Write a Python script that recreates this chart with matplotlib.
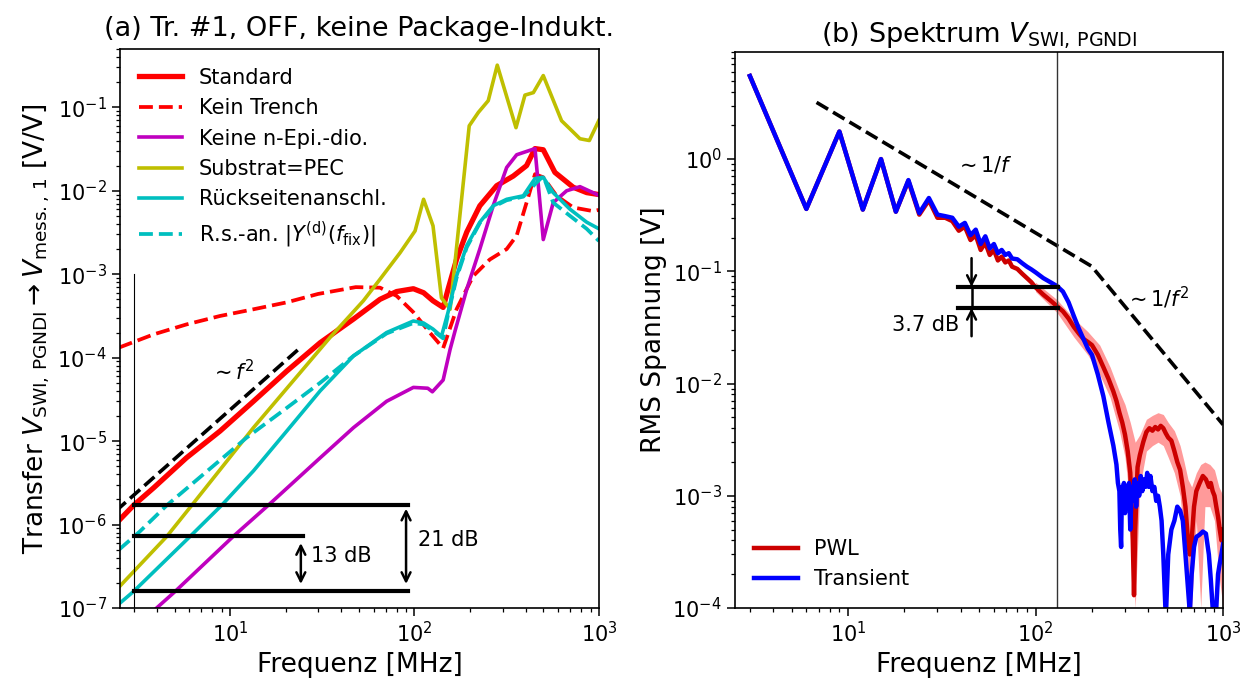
import numpy as np
import matplotlib.pyplot as plt

# =========================================================
# (a) Transfer functions, Tr. #1 OFF  (f in MHz, V/V)
# =========================================================
f_std = [2.5, 3.0, 3.85, 5.8, 8.83, 13.4, 20.3, 30.8, 46.7, 65, 80, 98.6, 112, 126,
         143, 152, 169, 192, 226, 279, 343, 405, 450, 499, 577, 726, 858, 1000]
v_std = [1.12e-6, 1.7e-6, 2.75e-6, 6.3e-6, 1.32e-5, 3.0e-5, 6.9e-5, 1.51e-4, 2.9e-4,
         5.0e-4, 6.2e-4, 6.7e-4, 6.0e-4, 4.8e-4, 4.0e-4, 6.6e-4, 1.5e-3, 3.2e-3,
         6.6e-3, 1.15e-2, 1.5e-2, 2.0e-2, 3.2e-2, 3.1e-2, 1.66e-2, 1.1e-2, 9.5e-3, 9.0e-3]

f_trench = [2.5, 3.85, 5.8, 8.83, 13.4, 20.3, 30, 48, 65, 80, 98.6, 121, 143, 169,
            208, 256, 316, 358, 405, 450, 499, 589, 726, 930, 1000]
v_trench = [1.32e-4, 1.9e-4, 2.5e-4, 3.16e-4, 3.8e-4, 4.6e-4, 5.8e-4, 7.0e-4, 6.9e-4,
            5.5e-4, 3.5e-4, 2.0e-4, 1.3e-4, 3.8e-4, 9.5e-4, 1.5e-3, 2.0e-3, 2.9e-3,
            7.2e-3, 1.58e-2, 1.45e-2, 8.7e-3, 6.3e-3, 5.7e-3, 5.9e-3]

f_epi = [4.0, 5.04, 10.4, 16.1, 30.8, 46.7, 70.6, 98.6, 118, 125, 143, 156, 166,
         192, 226, 267, 316, 358, 450, 499, 565, 668, 789, 1000]
v_epi = [1.0e-7, 1.58e-7, 7.2e-7, 1.7e-6, 6.3e-6, 1.45e-5, 3.0e-5, 4.4e-5, 4.3e-5,
         3.9e-5, 5.4e-5, 1.26e-4, 2.1e-4, 6.6e-4, 2.0e-3, 6.6e-3, 1.9e-2, 2.7e-2,
         3.2e-2, 2.6e-3, 7.2e-3, 1.0e-2, 1.12e-2, 8.8e-3]

f_pec = [2.5, 4.54, 6.2, 13.4, 34.8, 52.8, 65, 83.4, 100.7, 112, 126, 140, 156,
         198, 222, 251, 281, 355, 397, 441, 499, 627, 697, 789, 887, 1000]
v_pec = [1.78e-7, 7.2e-7, 1.7e-6, 1.45e-5, 1.74e-4, 4.8e-4, 8.7e-4, 1.8e-3, 3.3e-3,
         7.9e-3, 3.8e-3, 5.2e-4, 3.8e-4, 6.0e-2, 8.7e-2, 0.12, 0.32, 5.7e-2, 0.14,
         0.15, 0.24, 6.9e-2, 5.5e-2, 4.2e-2, 4.0e-2, 7.0e-2]

f_rs = [2.5, 3.0, 6.07, 9.0, 13.4, 20.3, 30.8, 46.7, 70.6, 98.6, 112, 126, 140, 152,
        169, 192, 226, 267, 316, 389, 450, 499, 565, 697, 858, 1000]
v_rs = [1.12e-7, 1.58e-7, 7.2e-7, 1.7e-6, 4.4e-6, 1.32e-5, 4.0e-5, 1.05e-4, 2.0e-4,
        2.75e-4, 2.6e-4, 2.2e-4, 1.8e-4, 3.5e-4, 9.5e-4, 2.2e-3, 4.2e-3, 6.6e-3,
        7.9e-3, 8.7e-3, 1.4e-2, 1.45e-2, 9.5e-3, 6.0e-3, 4.2e-3, 3.5e-3]

f_rsy = [2.5, 3.25, 4.54, 12.3, 20.3, 30.8, 46.7, 70.6, 98.6, 112, 126, 143, 152,
         169, 192, 226, 267, 316, 389, 450, 499, 565, 697, 858, 1000]
v_rsy = [5.0e-7, 8.3e-7, 1.7e-6, 1.1e-5, 2.5e-5, 5.0e-5, 1.05e-4, 1.95e-4, 2.6e-4,
         2.5e-4, 2.1e-4, 1.7e-4, 3.3e-4, 9.0e-4, 2.1e-3, 4.1e-3, 6.4e-3, 7.7e-3,
         8.5e-3, 1.2e-2, 1.5e-2, 7.2e-3, 5.0e-3, 3.5e-3, 2.5e-3]

f_sq = [2.4, 23.5]          # ~ f^2 guide
v_sq = [1.45e-6, 1.26e-4]

lvl_a = [1.7e-6, 7.2e-7, 1.58e-7]   # horizontal reference levels
lvl_a_end = [92.7, 24.8, 92.7]

# =========================================================
# (b) Spectrum V_SWI,PGNDI  (RMS V)
# =========================================================
f_tr = [3, 6, 9, 12, 15, 18, 21, 24, 27, 30, 33, 36, 39, 42, 45, 48, 51, 54, 57, 60,
        63, 66, 69, 72, 75, 80, 85, 90, 95, 100, 110, 120, 130, 140, 150, 160, 170,
        180, 190, 200, 215, 230, 245, 260, 270, 275,
        280, 283, 286, 289, 292, 296, 300, 305, 310, 315, 320, 326, 332, 338, 344,
        350, 357, 364, 371, 378, 386, 394, 402, 410, 420, 430, 440, 450, 460, 470,
        480, 495, 510, 530, 550, 570, 590, 610, 630, 650, 665, 680, 700, 720, 750,
        780, 810, 840, 860, 880, 900, 920, 940, 960, 980, 1000]
v_tr = [5.5, 0.36, 1.76, 0.355, 1.0, 0.34, 0.65, 0.33, 0.45, 0.32, 0.31, 0.30, 0.25,
        0.27, 0.21, 0.235, 0.175, 0.205, 0.16, 0.175, 0.145, 0.155, 0.14, 0.145, 0.13,
        0.128, 0.118, 0.11, 0.104, 0.098, 0.087, 0.08, 0.074, 0.066, 0.053, 0.04,
        0.031, 0.025, 0.0205, 0.018, 0.012, 0.0077, 0.0045, 0.0028, 0.0019, 0.0013,
        0.0011, 0.0005, 0.00035, 0.0012, 0.0009, 0.0013, 0.0007, 0.0012, 0.0008,
        0.0013, 0.0005, 0.0012, 0.0009, 0.0014, 0.0008, 0.0013, 0.001, 0.0015,
        0.0011, 0.0014, 0.0012, 0.0016, 0.0012, 0.0015, 0.0011, 0.0012, 0.0009,
        0.001, 0.0008, 0.0006, 0.0003, 0.00008, 0.0003, 0.0005, 0.0006, 0.0008,
        0.00074, 0.0006, 0.0003, 0.00015, 0.00009, 0.0002, 0.00035, 0.00043, 0.00045,
        0.00048, 0.00046, 0.0003, 0.00018, 0.0001, 0.00008, 0.0001, 0.0002, 0.00025,
        0.0003, 0.00037]

f_pwl = [3, 6, 9, 12, 15, 18, 21, 24, 27, 30, 33, 36, 39, 42, 45, 48, 51, 54, 57, 60,
         63, 66, 69, 72, 75, 80, 85, 90, 95, 100, 110, 120, 130, 140, 150, 160, 170,
         180, 190, 200, 215, 230, 245, 260, 270, 280, 290, 300, 310, 320, 330, 335,
         340, 350, 360, 375, 390, 405, 420, 435, 450, 465, 480, 495, 510, 530, 550,
         570, 590, 610, 630, 650, 665, 680, 700, 720, 750, 780, 810, 840, 860, 880,
         900, 920, 940, 960, 980, 1000]
v_pwl = [5.5, 0.36, 1.76, 0.355, 1.0, 0.34, 0.64, 0.32, 0.43, 0.30, 0.30, 0.28, 0.23,
         0.25, 0.19, 0.21, 0.155, 0.18, 0.14, 0.155, 0.125, 0.135, 0.12, 0.125, 0.11,
         0.105, 0.095, 0.087, 0.08, 0.072, 0.062, 0.055, 0.049, 0.044, 0.038, 0.032,
         0.028, 0.025, 0.0235, 0.022, 0.018, 0.014, 0.011, 0.0085, 0.007, 0.0055,
         0.0045, 0.0035, 0.0025, 0.0016, 0.0004, 0.00013, 0.0005, 0.0018, 0.0023,
         0.003, 0.0037, 0.004, 0.0038, 0.0041, 0.0039, 0.0042, 0.004, 0.0036, 0.0033,
         0.0031, 0.0025, 0.002, 0.0017, 0.0012, 0.0008, 0.0004, 0.0003, 0.0004,
         0.0008, 0.0011, 0.0013, 0.0015, 0.0014, 0.0012, 0.0013, 0.0011, 0.001,
         0.0008, 0.00065, 0.0005, 0.0004, 0.0005]

f_band = [100, 130, 160, 190, 220, 250, 280, 300, 320, 340, 360, 390, 420, 450, 480,
          510, 550, 590, 620, 650, 680, 720, 760, 800, 850, 900, 950, 1000]
band_hi = [0.08, 0.056, 0.038, 0.029, 0.022, 0.014, 0.0085, 0.0065, 0.0045, 0.003,
           0.0035, 0.0048, 0.0052, 0.0055, 0.0053, 0.0045, 0.0038, 0.0028, 0.002,
           0.0014, 0.0012, 0.0016, 0.0019, 0.002, 0.0019, 0.0017, 0.0012, 0.001]
band_lo = [0.066, 0.043, 0.026, 0.018, 0.012, 0.0075, 0.0038, 0.0022, 0.0008, 0.0001,
           0.0012, 0.0025, 0.0028, 0.003, 0.0028, 0.0022, 0.0016, 0.001, 0.0004,
           0.0001, 0.0001, 0.0006, 0.0001, 0.0008, 0.0008, 0.0006, 0.0002, 0.0001]

f_inv = [6.8, 199, 1000]          # ~1/f and ~1/f^2 guides
v_inv = [3.2, 0.111, 4.3e-3]

lvl_b = [0.0726, 0.0472]
f_lvl_b = [38.4, 132]

# =========================================================
# Figure
# =========================================================
plt.rcParams['font.family'] = 'DejaVu Sans'
plt.rcParams['xtick.major.size'] = 6
plt.rcParams['ytick.major.size'] = 6
plt.rcParams['xtick.minor.size'] = 3
plt.rcParams['ytick.minor.size'] = 3
plt.rcParams['xtick.major.width'] = 1.1
plt.rcParams['ytick.major.width'] = 1.1
plt.rcParams['xtick.minor.width'] = 0.9
plt.rcParams['ytick.minor.width'] = 0.9
plt.rcParams['axes.linewidth'] = 1.2

fig = plt.figure(figsize=(12.52, 6.86), dpi=100)
ax1 = fig.add_axes([0.0958, 0.1137, 0.3826, 0.8149])
ax2 = fig.add_axes([0.5871, 0.1137, 0.3898, 0.8105])

# ---------------- (a) ----------------
ax1.plot(f_std, v_std, color='r', lw=3.8, label='Standard')
ax1.plot(f_trench, v_trench, color='r', lw=2.7, ls='--', label='Kein Trench')
ax1.plot(f_epi, v_epi, color='m', lw=2.6, label='Keine n-Epi.-dio.')
ax1.plot(f_pec, v_pec, color='y', lw=2.6, label='Substrat=PEC')
ax1.plot(f_rs, v_rs, color='c', lw=2.6, label='Rückseitenanschl.')
ax1.plot(f_rsy, v_rsy, color='c', lw=2.7, ls='--',
         label=r'R.s.-an. $|Y^{(\mathrm{d})}(f_\mathrm{fix})|$')
ax1.plot(f_sq, v_sq, color='k', lw=2.6, ls='--')
ax1.text(7.8, 6.9e-5, r'$\sim f^2$', fontsize=15, va='center')

ax1.plot([3, 3], [1e-7, 1e-3], color='k', lw=0.8)
for lv, fe in zip(lvl_a, lvl_a_end):
    ax1.plot([3, fe], [lv, lv], color='k', lw=3)

arr = dict(arrowstyle='<->', lw=1.8, color='k', mutation_scale=16,
           shrinkA=0, shrinkB=0)
ax1.annotate('', xy=(90, 1.94e-7), xytext=(90, 1.55e-6), arrowprops=arr)
ax1.annotate('', xy=(24.2, 1.94e-7), xytext=(24.2, 6.0e-7), arrowprops=arr)
ax1.text(104, 6.5e-7, '21 dB', fontsize=15, va='center')
ax1.text(27.5, 4.2e-7, '13 dB', fontsize=15, va='center')

ax1.set_xscale('log')
ax1.set_yscale('log')
ax1.set_xlim(2.53, 1000)
ax1.set_ylim(1e-7, 0.5)
ax1.set_xlabel('Frequenz [MHz]', fontsize=19)
ax1.set_ylabel(r'Transfer $V_{\mathrm{SWI,\,PGNDI}} \rightarrow V_{\mathrm{mess.,\,1}}$ [V/V]',
               fontsize=19)
ax1.set_title('(a) Tr. #1, OFF, keine Package-Indukt.', fontsize=19.5, pad=9)
ax1.tick_params(labelsize=15)
ax1.legend(loc='upper left', frameon=False, fontsize=15, handlelength=2.1)

# ---------------- (b) ----------------
ax2.fill_between(f_band, band_lo, band_hi, color='#ff9a9a', lw=0)
ax2.plot(f_pwl, v_pwl, color='#cc0000', lw=3.2, label='PWL')
ax2.plot(f_tr, v_tr, color='blue', lw=3.2, label='Transient')
ax2.plot(f_inv, v_inv, color='k', lw=2.6, ls='--')
ax2.text(37, 0.88, r'$\sim 1/f$', fontsize=15, va='center')
ax2.text(300, 0.058, r'$\sim 1/f^2$', fontsize=15, va='center')

ax2.axvline(130, color='#333333', lw=1)
for lv in lvl_b:
    ax2.plot(f_lvl_b, [lv, lv], color='k', lw=3)
ax2.plot([45.6, 45.6], [0.0472, 0.0726], color='k', lw=1.8)
arr2 = dict(arrowstyle='->', lw=1.8, color='k', mutation_scale=16,
            shrinkA=0, shrinkB=0)
ax2.annotate('', xy=(45.6, 0.0726), xytext=(45.6, 0.131), arrowprops=arr2)
ax2.annotate('', xy=(45.6, 0.0472), xytext=(45.6, 0.0264), arrowprops=arr2)
ax2.text(39, 0.0335, '3.7 dB', fontsize=15, va='center', ha='right')

ax2.set_xscale('log')
ax2.set_yscale('log')
ax2.set_xlim(2.5, 1000)
ax2.set_ylim(1e-4, 9)
ax2.set_xlabel('Frequenz [MHz]', fontsize=19)
ax2.set_ylabel('RMS Spannung [V]', fontsize=19)
ax2.set_title(r'(b) Spektrum $V_{\mathrm{SWI,\,PGNDI}}$', fontsize=19.5, pad=7)
ax2.tick_params(labelsize=15)
ax2.legend(loc='lower left', frameon=False, fontsize=15, handlelength=2.1)

fig.savefig('out.png', dpi=100)
